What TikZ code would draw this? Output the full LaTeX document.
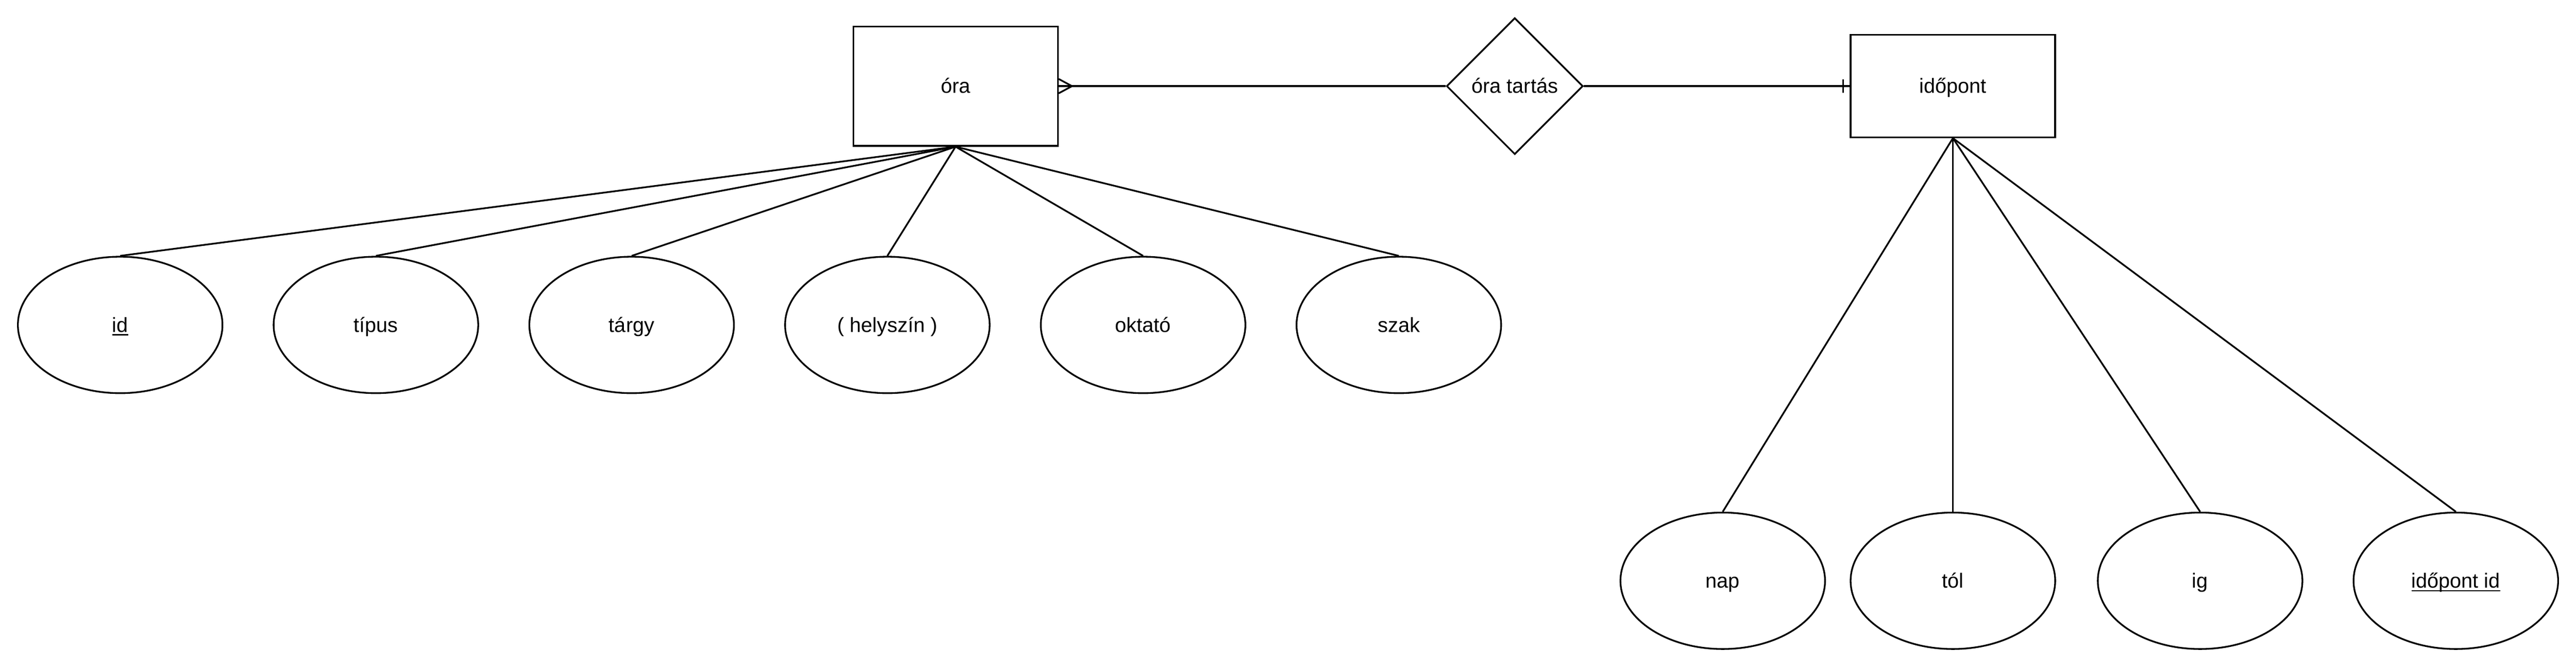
\documentclass[tikz,border=0pt]{standalone}
\usepackage{fontspec}
\setmainfont{Liberation Sans}
\usetikzlibrary{shapes.geometric,positioning}
\newcommand{\ulkey}[1]{\setbox0\hbox{#1}\rlap{\rule[-2pt]{\wd0}{0.7pt}}\box0}

\begin{document}
\begin{tikzpicture}
  [
  x=1pt, y=-1pt, line width=1pt, draw=black,
  font=\fontsize{12pt}{14.4pt}\selectfont,
  every node/.style={inner sep=0pt, text height=10.9pt, text depth=2.6pt},
  entity/.style={rectangle, minimum width=120pt, draw=black},
  attrib/.style={ellipse, minimum width=120pt, minimum height=80pt, draw=black},
  relation/.style={diamond, minimum width=80pt, minimum height=80pt, draw=black}
  ]

\fill[white] (0,0) rectangle (1511,391);
\useasboundingbox (0,0) rectangle (1511,391);

\node[entity, minimum height=70pt] (ora) at (560.5,50.5) {óra};
\node[relation] (tartas) at (888.5,50.5) {óra tartás};
\node[entity, minimum height=60pt] (idopont) at (1145.5,50.5) {időpont};

\draw (ora.east) -- (tartas.west);
\draw (tartas.east) -- (idopont.west);

% crow's foot and bar
\draw ([yshift=4.2pt]ora.east) -- ([xshift=7.8pt]ora.east) -- ([yshift=-4.2pt]ora.east);
\draw ([xshift=-3.8pt,yshift=4pt]idopont.west) -- ([xshift=-3.8pt,yshift=-4pt]idopont.west);

\foreach \n/\x/\t in {id/70.5/{\ulkey{id}}, tipus/220.5/típus, targy/370.5/tárgy,
  helyszin/520.5/{( helyszín )}, oktato/670.5/oktató, szak/820.5/szak} {
  \node[attrib] (\n) at (\x,190.5) {\t};
  \draw (ora.south) -- (\n.north);
}

\foreach \n/\x/\t in {nap/1010.5/nap, tol/1145.5/tól, ig/1290.5/ig,
  idopontid/1440.5/{\ulkey{időpont id}}} {
  \node[attrib] (\n) at (\x,340.5) {\t};
  \draw (idopont.south) -- (\n.north);
}

\end{tikzpicture}
\end{document}
